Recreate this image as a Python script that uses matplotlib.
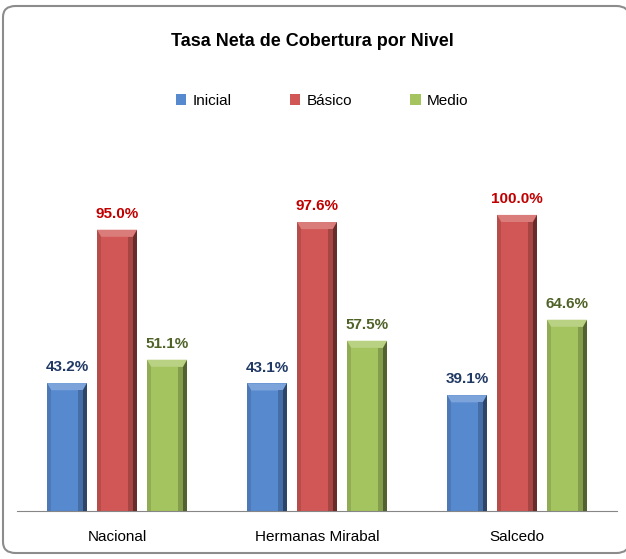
import numpy as np
import matplotlib.pyplot as plt
from matplotlib.patches import FancyBboxPatch, Polygon
from matplotlib import font_manager

categories = ["Nacional", "Hermanas Mirabal", "Salcedo"]
series = ["Inicial", "Básico", "Medio"]
inicial = [43.2, 43.1, 39.1]
basico = [95.0, 97.6, 100.0]
medio = [51.1, 57.5, 64.6]

bar_colors = ["#5789CF", "#D05755", "#A4C45F"]
label_colors = ["#1F3864", "#C00000", "#4F6228"]

names = {f.name for f in font_manager.fontManager.ttflist}
fam = "Liberation Sans Narrow" if "Liberation Sans Narrow" in names else "Liberation Sans"
plt.rcParams["font.family"] = [fam, "DejaVu Sans"]


def shade(c, f):
    rgb = np.array(plt.matplotlib.colors.to_rgb(c))
    if f > 0:
        rgb = rgb + (1 - rgb) * f
    else:
        rgb = rgb * (1 + f)
    return tuple(rgb)


def bevel(ax, x0, w, h, color, bx, by):
    x1 = x0 + w
    # top bevel (lighter)
    ax.add_patch(Polygon([(x0, h), (x1, h), (x1 - bx, h - by), (x0 + bx, h - by)],
                         closed=True, fc=shade(color, 0.22), ec="none", zorder=3))
    # right side (darker)
    ax.add_patch(Polygon([(x1, h), (x1, 0), (x1 - bx, 0), (x1 - bx, h - by)],
                         closed=True, fc=shade(color, -0.5), ec="none", zorder=3))
    ax.add_patch(Polygon([(x1 - bx, h - by), (x1 - bx, 0), (x1 - 2 * bx, 0), (x1 - 2 * bx, h - by)],
                         closed=True, fc=shade(color, -0.2), ec="none", zorder=3))
    # left side (slightly dark)
    ax.add_patch(Polygon([(x0, h), (x0, 0), (x0 + bx, 0), (x0 + bx, h - by)],
                         closed=True, fc=shade(color, -0.12), ec="none", zorder=3))


fig = plt.figure(figsize=(6.26, 5.59), dpi=100)
fig.patches.append(FancyBboxPatch((3 / 626, 6 / 559), 626 / 626, 547 / 559,
                                  boxstyle="round,pad=0,rounding_size=0.02",
                                  transform=fig.transFigure, fc="white",
                                  ec="#8C8C8C", lw=1.5, zorder=-10))

ax = fig.add_axes([17 / 626, 48 / 559, 600 / 626, 371 / 559])
ax.set_facecolor("none")
x = np.arange(len(categories))
width = 0.2
gap = 0.05
bx = 0.022
by = 2.4
for i, (vals, c, lc) in enumerate(zip([inicial, basico, medio], bar_colors, label_colors)):
    offs = (i - 1) * (width + gap)
    ax.bar(x + offs, vals, width, color=c, label=series[i], zorder=2)
    for xi, v in zip(x + offs, vals):
        bevel(ax, xi - width / 2, width, v, c, bx, by)
        ax.text(xi, v + 3.0, f"{v:.1f}%", ha="center", va="bottom",
                color=lc, fontsize=11, fontweight="bold")

ax.set_xlim(-0.5, 2.5)
ax.set_ylim(0, 125.3)
ax.set_xticks(x)
ax.set_xticklabels(categories, fontsize=11, color="black")
ax.tick_params(axis="x", length=0, pad=14)
ax.set_yticks([])
for s in ["top", "right", "left"]:
    ax.spines[s].set_visible(False)
ax.spines["bottom"].set_color("#868686")

fig.text(312 / 626, 1 - 42 / 559, "Tasa Neta de Cobertura por Nivel",
         ha="center", va="center", fontsize=13, fontweight="bold")
fig.legend(loc="center", bbox_to_anchor=(322 / 626, 1 - 101 / 559), ncol=3,
           frameon=False, fontsize=11, handlelength=0.7, handleheight=0.7,
           columnspacing=3.8, handletextpad=0.4)

fig.savefig("out.png", dpi=100)
